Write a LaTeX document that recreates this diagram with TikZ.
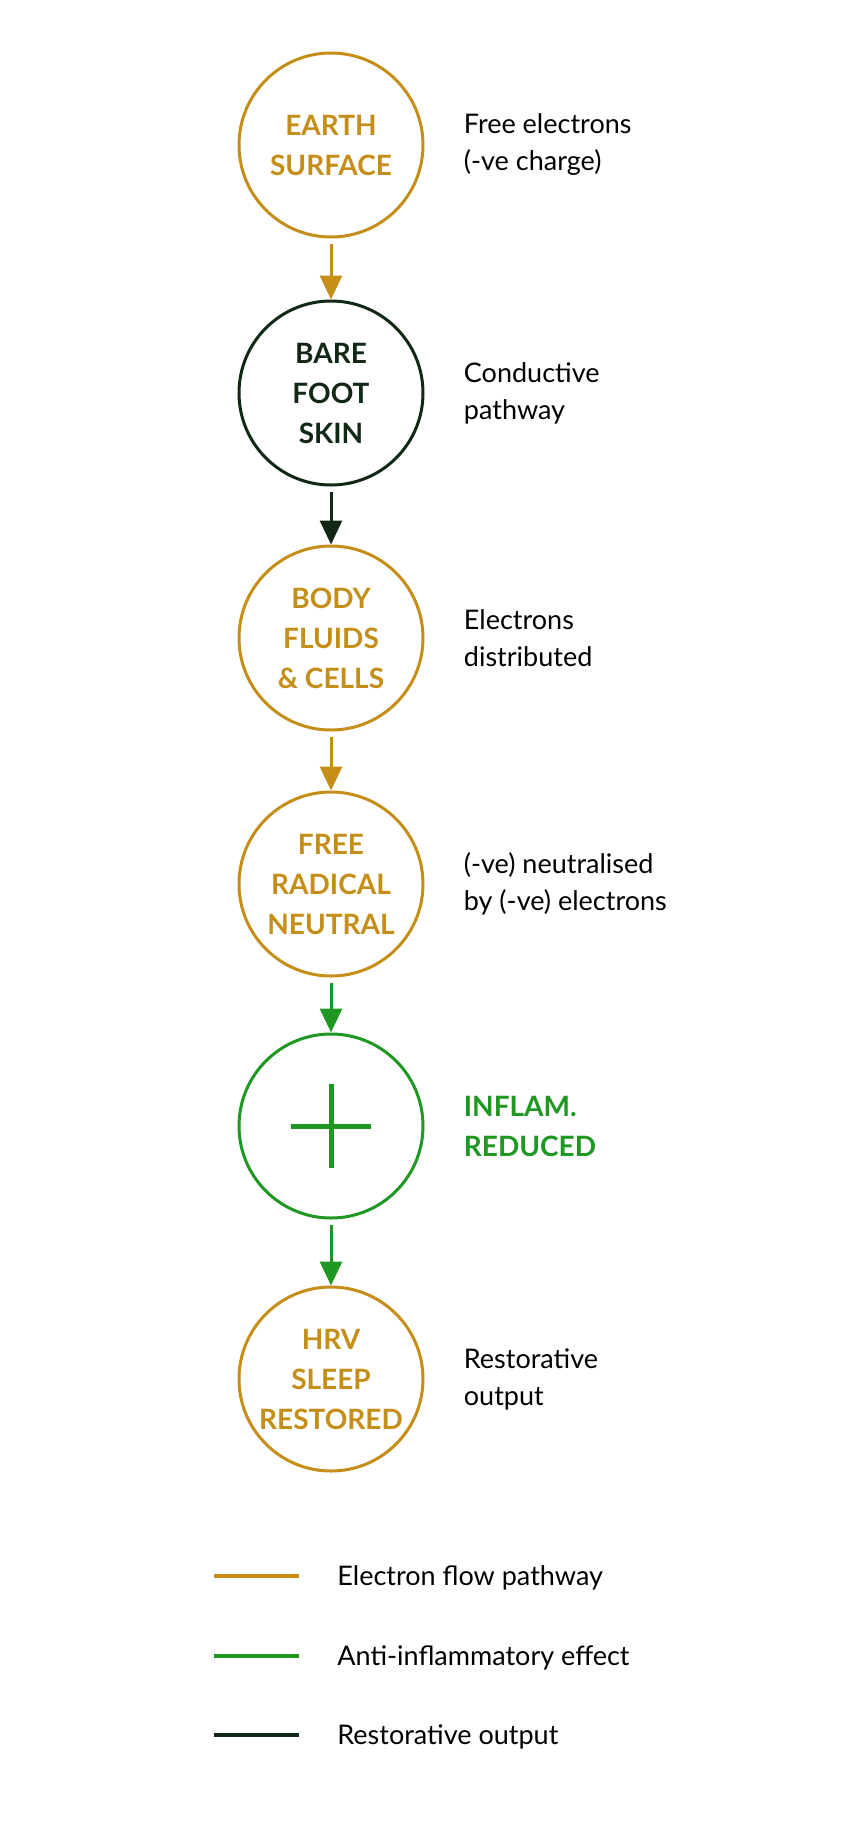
\documentclass[tikz,border=0pt]{standalone}
\usepackage{fontspec}
\setmainfont{Lato}
\usepackage{tikz}
\usetikzlibrary{positioning}
\usetikzlibrary{arrows.meta}

\definecolor{gold}{RGB}{196,142,24}
\definecolor{darkleaf}{RGB}{16,40,20}
\definecolor{leaf}{RGB}{30,152,34}

\begin{document}
\begin{tikzpicture}[x=0.5pt, y=-0.5pt,
    stage/.style={circle, draw=#1, text=#1, line width=1.5pt, minimum size=92pt, inner sep=0pt,
      align=center, font=\bfseries\fontsize{14}{20}\selectfont},
    note/.style={align=left, inner sep=0pt, font=\fontsize{13.5}{18.5}\selectfont},
    flow/.style={draw=#1, line width=1.5pt, -{Triangle[length=12pt,width=11pt]}, shorten <=2.5pt}]

  \useasboundingbox[fill=white] (0,0) rectangle (864,1821);

  \def\cx{331};

  % the chain of circles
  \foreach \name/\y/\col/\txt in {earth/145/gold/{EARTH\\SURFACE}, skin/393/darkleaf/{BARE\\FOOT\\SKIN},
      fluids/638/gold/{BODY\\FLUIDS\\\& CELLS}, radical/884/gold/{FREE\\RADICAL\\NEUTRAL},
      inflam/1126/leaf/{}, sleep/1379/gold/{HRV\\SLEEP\\RESTORED}} {
    \node[stage=\col] (\name) at (\cx,\y) {\txt};
  }

  \draw[leaf, line width=2.5pt] (inflam.center) ++(0,-42) -- ++(0,84);
  \draw[leaf, line width=2.5pt] (inflam.center) ++(-40,0) -- ++(80,0);

  % notes on the right
  \node[note, right=19.5pt of earth] (earthnote) {Free electrons\\(-ve charge)};
  \node[note, right=19.5pt of skin] (skinnote) {Conductive\\pathway};
  \node[note, right=19.5pt of fluids] (fluidsnote) {Electrons\\distributed};
  \node[note, right=19.5pt of radical] (radicalnote) {(-ve) neutralised\\by (-ve) electrons};
  \node[note, right=19.5pt of inflam, text=leaf, font=\bfseries\fontsize{14}{20}\selectfont] (inflamnote) {INFLAM.\\REDUCED};
  \node[note, right=19.5pt of sleep] (sleepnote) {Restorative\\output};

  % arrows
  \draw[flow=gold] (earth) -- (skin);
  \draw[flow=darkleaf] (skin) -- (fluids);
  \draw[flow=gold] (fluids) -- (radical);
  \draw[flow=leaf] (radical) -- (inflam);
  \draw[flow=leaf] (inflam) -- (sleep);

  % legend
  \foreach \y/\col/\txt in {1576/gold/Electron flow pathway, 1656/leaf/Anti-inflammatory effect,
      1735/darkleaf/Restorative output} {
    \draw[\col, line width=2pt] (214,\y) -- (299,\y);
    \node[note, anchor=base west] at (337,\y+9) {\txt};
  }

\end{tikzpicture}
\end{document}
